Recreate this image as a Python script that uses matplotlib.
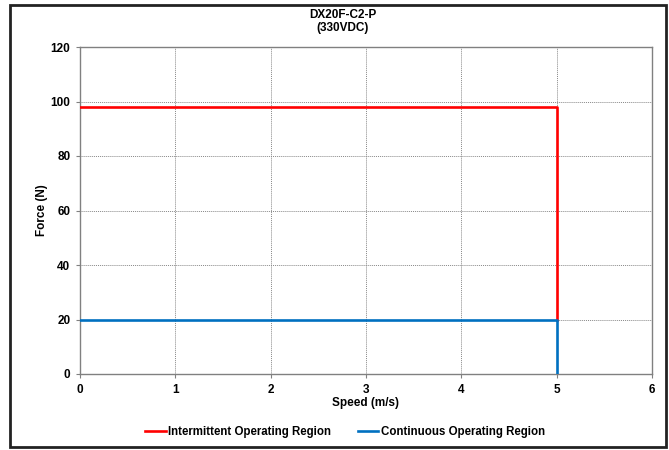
import matplotlib
matplotlib.use("Agg")
import matplotlib.pyplot as plt
from matplotlib.patches import Rectangle

plt.rcParams['font.family'] = ['Liberation Sans', 'DejaVu Sans']

title = "DX20F-C2-P\n(330VDC)"
inter_speed = [0, 5, 5]
inter_force = [98, 98, 20]
cont_speed = [0, 5, 5]
cont_force = [20, 20, 0]
xticks = [0, 1, 2, 3, 4, 5, 6]
yticks = [0, 20, 40, 60, 80, 100, 120]

fig = plt.figure(figsize=(6.69, 4.5), dpi=100)
ax = fig.add_axes([80/669, 1-374/450, (652-80)/669, (374-47)/450])

ax.plot(inter_speed, inter_force, color='#FF0000', lw=1.9, label='Intermittent Operating Region', zorder=3)
ax.plot(cont_speed, cont_force, color='#0070C0', lw=1.9, label='Continuous Operating Region', zorder=4)

ax.set_xlim(0, 6)
ax.set_ylim(0, 120)
ax.set_xticks(xticks)
ax.set_yticks(yticks)
ax.grid(True, color='#888888', linestyle=(0, (1, 1)), linewidth=0.7)
for s in ax.spines.values():
    s.set_color('#808080')
    s.set_linewidth(1.0)
ax.tick_params(direction='out', length=3, color='#808080', labelsize=8.5, pad=4)
for lab in ax.get_xticklabels() + ax.get_yticklabels():
    lab.set_fontweight('bold')

ax.set_xlabel('Speed (m/s)', fontsize=8.5, fontweight='bold', labelpad=1)
ax.set_ylabel('Force (N)', fontsize=8.5, fontweight='bold', labelpad=2)
fig.text(343/669, 1-21.5/450, title, ha='center', va='center',
         fontsize=8.5, fontweight='bold', linespacing=1.2)

leg = fig.legend(loc='center', bbox_to_anchor=(345/669, 1-432/450), ncol=2, frameon=False,
                 prop={'weight': 'bold', 'size': 8.3}, handlelength=1.8, handletextpad=0.2,
                 columnspacing=2.3)

fig.patches.append(Rectangle((10/669, 1-447/450), 656/669, 442/450, transform=fig.transFigure,
                             fill=False, edgecolor='#222222', linewidth=2.0))

fig.savefig('out.png', dpi=100)
